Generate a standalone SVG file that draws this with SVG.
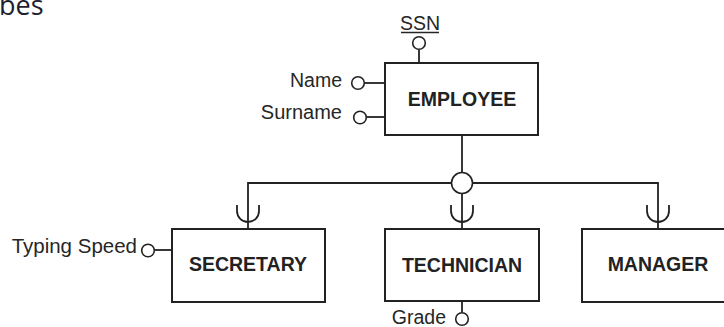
<svg xmlns="http://www.w3.org/2000/svg" width="724" height="327" viewBox="0 0 724 327">
  <style>
    .box { fill: #ffffff; stroke: #222222; stroke-width: 2; }
    .line { fill: none; stroke: #222222; stroke-width: 1.8; }
    .attr { fill: #ffffff; stroke: #222222; stroke-width: 1.6; }
    .lbl { font-family: "Liberation Sans", Arial, sans-serif; font-size: 19.5px; fill: #262626; }
    .ent { font-family: "Liberation Sans", Arial, sans-serif; font-size: 19.5px; font-weight: bold; fill: #222222; text-anchor: middle; }
    .title { font-family: "Open Sans", "Liberation Sans", sans-serif; font-size: 27px; fill: #1e1e30; }
  </style>
  <rect width="724" height="327" fill="#ffffff"/>
  <text class="title" x="-1" y="15">bes</text>

  <g id="connectors">
    <line class="line" x1="419" y1="50" x2="419" y2="63"/>
    <line class="line" x1="364" y1="83" x2="385" y2="83"/>
    <line class="line" x1="366" y1="117" x2="385" y2="117"/>
    <line class="line" x1="462" y1="135" x2="462" y2="172.5"/>
    <polyline class="line" points="452,183 248,183 248,229"/>
    <polyline class="line" points="472,183 658,183 658,229"/>
    <line class="line" x1="462" y1="193" x2="462" y2="229"/>
    <path class="line" d="M237,205 v6 a11,11 0 0 0 22,0 v-6"/>
    <path class="line" d="M451,205 v6 a11,11 0 0 0 22,0 v-6"/>
    <path class="line" d="M647,205 v6 a11,11 0 0 0 22,0 v-6"/>
    <line class="line" x1="154.5" y1="250" x2="172" y2="250"/>
    <line class="line" x1="462" y1="301" x2="462" y2="312"/>
  </g>

  <g id="generalization">
    <circle class="attr" cx="462" cy="183" r="10.5"/>
  </g>

  <g id="employee">
    <rect class="box" x="385" y="63" width="153" height="72"/>
    <text class="ent" x="462" y="106">EMPLOYEE</text>
  </g>

  <g id="ssn">
    <circle class="attr" cx="419" cy="43" r="6.3"/>
    <text class="lbl" x="420" y="30" text-anchor="middle">SSN</text>
    <line x1="401" y1="32.5" x2="439" y2="32.5" stroke="#262626" stroke-width="1.3"/>
  </g>

  <g id="name">
    <circle class="attr" cx="358" cy="83" r="6.3"/>
    <text class="lbl" x="342" y="87" text-anchor="end">Name</text>
  </g>

  <g id="surname">
    <circle class="attr" cx="360" cy="117.5" r="6.3"/>
    <text class="lbl" x="342" y="119" text-anchor="end" style="font-size:20px">Surname</text>
  </g>

  <g id="secretary">
    <rect class="box" x="172" y="229" width="153" height="73"/>
    <text class="ent" x="248" y="271">SECRETARY</text>
  </g>

  <g id="typing-speed">
    <circle class="attr" cx="148" cy="250.5" r="6.3"/>
    <text class="lbl" x="137" y="253" text-anchor="end" style="font-size:20.5px">Typing Speed</text>
  </g>

  <g id="technician">
    <rect class="box" x="385" y="229" width="154" height="72"/>
    <text class="ent" x="462" y="271.5">TECHNICIAN</text>
  </g>

  <g id="grade">
    <circle class="attr" cx="462" cy="319" r="6.3"/>
    <text class="lbl" x="446" y="324" text-anchor="end">Grade</text>
  </g>

  <g id="manager">
    <rect class="box" x="582" y="229" width="153" height="73"/>
    <text class="ent" x="658" y="271">MANAGER</text>
  </g>
</svg>
